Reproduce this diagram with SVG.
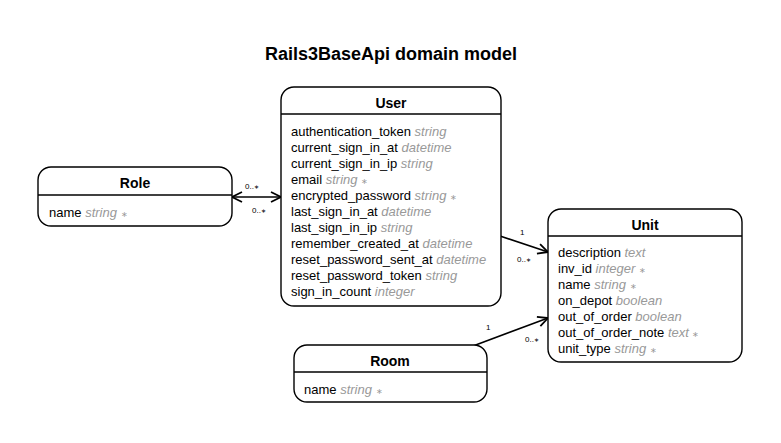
<svg xmlns="http://www.w3.org/2000/svg" width="781" height="443" viewBox="0 0 781 443">
<style>
.box{fill:#fff;stroke:#000;stroke-width:1.4}
.sep{stroke:#000;stroke-width:1.4}
.hd{font-family:"Liberation Sans",Arial,sans-serif;font-size:14px;font-weight:bold;text-anchor:middle;fill:#000}
.at{font-family:"Liberation Sans",Arial,sans-serif;font-size:13px;fill:#000}
.ty{font-style:italic;fill:#999}
.st{font-style:normal;font-size:8px;fill:#999}
.lb{font-family:"Liberation Sans",Arial,sans-serif;font-size:8px;fill:#000}
.ls{font-size:6px}
.edge{stroke:#000;stroke-width:1.6;fill:none}
</style>
<defs>
<marker id="arr" viewBox="0 0 12 12" refX="11" refY="6" markerWidth="12" markerHeight="12" markerUnits="userSpaceOnUse" orient="auto-start-reverse">
<path d="M1,1 L11,6 L1,11" fill="none" stroke="#000" stroke-width="1.8"/>
</marker>
</defs>
<rect width="781" height="443" fill="#fff"/>
<text x="391" y="60" font-family="'Liberation Sans',Arial,sans-serif" font-size="18" font-weight="bold" text-anchor="middle">Rails3BaseApi domain model</text>

<g id="connectors">
<line class="edge" x1="232" y1="197" x2="281" y2="197" marker-start="url(#arr)" marker-end="url(#arr)"/>
<text class="lb" x="245" y="189">0..<tspan class="ls">∗</tspan></text>
<text class="lb" x="252" y="213">0..<tspan class="ls">∗</tspan></text>
<line class="edge" x1="500" y1="236" x2="548" y2="252" marker-end="url(#arr)"/>
<text class="lb" x="520" y="235">1</text>
<text class="lb" x="517" y="262">0..<tspan class="ls">∗</tspan></text>
<line class="edge" x1="473" y1="346" x2="548" y2="318" marker-end="url(#arr)"/>
<text class="lb" x="486" y="330">1</text>
<text class="lb" x="525" y="342">0..<tspan class="ls">∗</tspan></text>
</g>

<g id="role">
<rect class="box" x="38" y="167" width="194" height="59" rx="13"/>
<line class="sep" x1="38" y1="195" x2="232" y2="195"/>
<text class="hd" x="135" y="188">Role</text>
<text class="at" x="49" y="217">name <tspan class="ty">string</tspan> <tspan class="st">∗</tspan></text>
</g>

<g id="user">
<rect class="box" x="281" y="87" width="220" height="219" rx="13"/>
<line class="sep" x1="281" y1="114" x2="501" y2="114"/>
<text class="hd" x="391" y="108">User</text>
<text class="at" x="291" y="136">authentication_token <tspan class="ty">string</tspan></text>
<text class="at" x="291" y="152">current_sign_in_at <tspan class="ty">datetime</tspan></text>
<text class="at" x="291" y="168">current_sign_in_ip <tspan class="ty">string</tspan></text>
<text class="at" x="291" y="184">email <tspan class="ty">string</tspan> <tspan class="st">∗</tspan></text>
<text class="at" x="291" y="200">encrypted_password <tspan class="ty">string</tspan> <tspan class="st">∗</tspan></text>
<text class="at" x="291" y="216">last_sign_in_at <tspan class="ty">datetime</tspan></text>
<text class="at" x="291" y="232">last_sign_in_ip <tspan class="ty">string</tspan></text>
<text class="at" x="291" y="248">remember_created_at <tspan class="ty">datetime</tspan></text>
<text class="at" x="291" y="264">reset_password_sent_at <tspan class="ty">datetime</tspan></text>
<text class="at" x="291" y="280">reset_password_token <tspan class="ty">string</tspan></text>
<text class="at" x="291" y="296">sign_in_count <tspan class="ty">integer</tspan></text>
</g>

<g id="unit">
<rect class="box" x="548" y="209" width="194" height="153" rx="13"/>
<line class="sep" x1="548" y1="236" x2="742" y2="236"/>
<text class="hd" x="645" y="230">Unit</text>
<text class="at" x="558" y="257">description <tspan class="ty">text</tspan></text>
<text class="at" x="558" y="273">inv_id <tspan class="ty">integer</tspan> <tspan class="st">∗</tspan></text>
<text class="at" x="558" y="289">name <tspan class="ty">string</tspan> <tspan class="st">∗</tspan></text>
<text class="at" x="558" y="305">on_depot <tspan class="ty">boolean</tspan></text>
<text class="at" x="558" y="321">out_of_order <tspan class="ty">boolean</tspan></text>
<text class="at" x="558" y="337">out_of_order_note <tspan class="ty">text</tspan> <tspan class="st">∗</tspan></text>
<text class="at" x="558" y="353">unit_type <tspan class="ty">string</tspan> <tspan class="st">∗</tspan></text>
</g>

<g id="room">
<rect class="box" x="294" y="345" width="193" height="57" rx="13"/>
<line class="sep" x1="294" y1="372" x2="487" y2="372"/>
<text class="hd" x="390" y="366">Room</text>
<text class="at" x="304" y="394">name <tspan class="ty">string</tspan> <tspan class="st">∗</tspan></text>
</g>
</svg>
